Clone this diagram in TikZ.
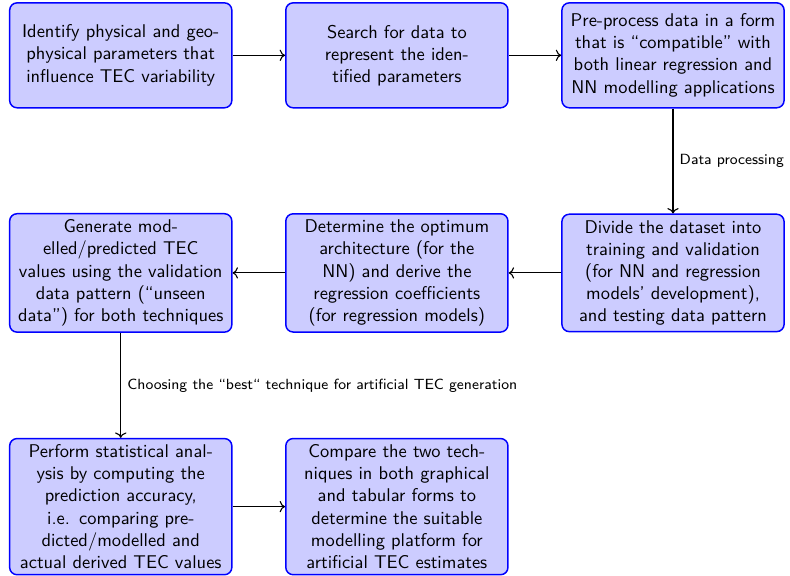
\documentclass[tikz,border=0pt]{standalone}
\usepackage{xcolor}
\usepackage{tikz}
\usetikzlibrary{arrows.meta, positioning, calc}
\tikzset{
  proc/.style={rectangle, rounded corners=4pt, draw=blue, thick,
               fill=blue!20, font=\sffamily, text width=4cm,
               minimum height=2cm, align=center},
  arr/.style={->, semithick},
  lbl/.style={font=\sffamily\footnotesize},
}

\begin{document}
\begin{tikzpicture}[node distance=2cm and 1cm]
  %% First row
  \node[proc] (ident) {Identify physical and geophysical parameters that influence TEC variability};
  \node[proc, right=of ident] (search) {Search for data to represent the identified parameters};
  \node[proc, right=of search] (prep) {Pre-process data in a form that is ``compatible'' with both linear regression and NN modelling applications};
  \foreach \a/\b in {ident/search,search/prep}
    \draw[arr] (\a) -- (\b);
  %% Second row
  \node[proc, below=of prep] (divide) {Divide the dataset into training and validation (for NN and regression models' development), and testing data pattern};
  \node[proc, left=of divide] (arch) {Determine the optimum architecture (for the NN) and derive the regression coefficients (for regression models)};
  \node[proc, left=of arch] (gen) {Generate modelled/predicted TEC values using the validation data pattern (``unseen data'') for both techniques};
  \draw[arr] (prep) -- node[lbl, right] {Data processing} (divide);
  \foreach \a/\b in {divide/arch,arch/gen}
    \draw[arr] (\a) -- (\b);
  %% Third row
  \node[proc, below=of gen] (stat) {Perform statistical analysis by computing the prediction accuracy, i.e. comparing predicted/modelled and actual derived TEC values};
  \node[proc, right=of stat] (comp) {Compare the two techniques in both graphical and tabular forms to determine the suitable modelling platform for artificial TEC estimates};
  \draw[arr] (gen) -- node[lbl, right] {Choosing the ``best`` technique for artificial TEC generation} (stat);
  \draw[arr] (stat) -- (comp);
  \path[use as bounding box] ($(ident.north west)+(-0.17,0.04)$) rectangle ++(14.79,-10.91);
\end{tikzpicture}
\end{document}
